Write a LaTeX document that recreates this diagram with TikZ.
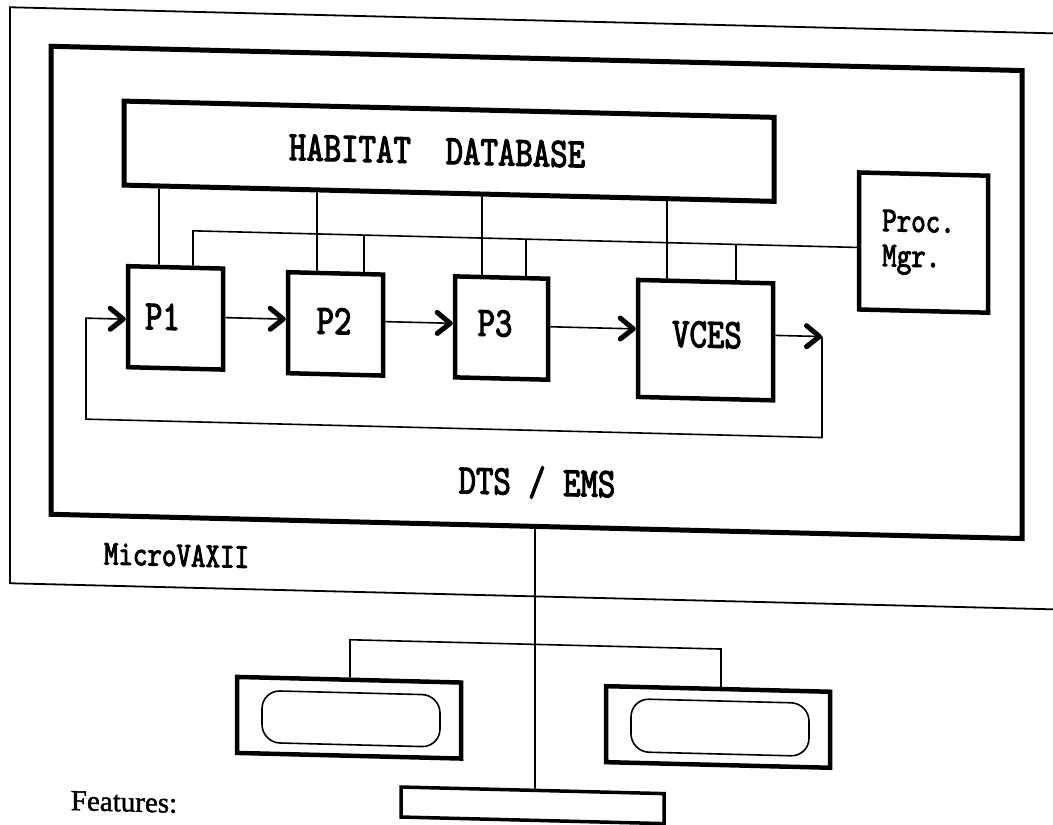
\documentclass[tikz,border=0pt]{standalone}
\usepackage{fontspec}
\usetikzlibrary{arrows.meta}
\newfontfamily\tw{lmmono10-regular}[Extension=.otf,FakeStretch=0.79,FakeBold=2.5]
\setmainfont{Liberation Serif}
\newfontfamily\featfont{Liberation Serif}[FakeBold=1.5]
\tikzset{
  big/.style={font={\tw\fontsize{42}{44}\selectfont}, inner sep=0pt},
  mid/.style={font={\tw\fontsize{35}{36}\selectfont}, inner sep=0pt},
  thickbox/.style={draw, line width=4.5pt, rectangle, inner sep=0pt},
  conn/.style={line width=1.6pt},
  arr/.style={conn, -{Straight Barb[length=13pt,width=21pt,line width=5pt,round]}},
  screen/.style={draw, line width=1.6pt, rounded corners=18pt, rectangle, inner sep=0pt}
}
\begin{document}
\begin{tikzpicture}[x=1pt,y=-1pt]
\useasboundingbox (0,0) rectangle (1053,825);
\begin{scope}[transform canvas={yslant=-0.025}]
% MicroVAXII enclosure (open to the right)
\draw[line width=1.8pt] (1120,7) -- (10,7) -- (10,583) -- (1120,583);
\node[mid] (mvax) at (176.5,551) {MicroVAXII};
% DTS / EMS box
\node[thickbox, line width=5pt, minimum width=971pt, minimum height=468pt] (sys) at (536.5,279) {};
\node[big] (dts) at (537,469) {DTS / EMS};
% database
\node[thickbox, line width=5pt, minimum width=650pt, minimum height=84pt] (db) at (449,140) {};
\node[big] (dbt) at (437,140) {HABITAT\ \ DATABASE};
% process manager
\node[thickbox, minimum width=129pt, minimum height=137pt] (pm) at (923.5,219.5) {};
\node[mid, anchor=base west] (pmt1) at (882,209) {Proc.};
\node[mid, anchor=base west] (pmt2) at (882,244) {Mgr.};
% processes
\node[thickbox, minimum width=95pt, minimum height=101pt] (p1) at (175.5,313.5) {};
\node[thickbox, minimum width=95pt, minimum height=101pt] (p2) at (335.5,315.5) {};
\node[thickbox, minimum width=93pt, minimum height=101pt] (p3) at (501.5,315.5) {};
\node[thickbox, minimum width=135pt, minimum height=117pt] (vces) at (705.5,322.5) {};
\node[big] (p1t) at (162.5,312.6) {P1};
\node[big] (p2t) at (334,312.7) {P2};
\node[big] (p3t) at (495,311) {P3};
\node[big] (vcest) at (707,317) {VCES};
% database links
\draw[conn] (db.south -| 159,0) -- (p1.north -| 159,0);
\draw[conn] (db.south -| 317,0) -- (p2.north -| 317,0);
\draw[conn] (db.south -| 482,0) -- (p3.north -| 482,0);
\draw[conn] (db.south -| 667,0) -- (vces.north -| 667,0);
% process manager bus
\coordinate (b1) at (193,226);
\coordinate (b2) at (364,226);
\coordinate (b3) at (526,226);
\coordinate (b4) at (736,226);
\draw[conn] (p1.north -| b1) -- (b1) -- (pm.west |- b1);
\draw[conn] (b2) -- (p2.north -| b2);
\draw[conn] (b3) -- (p3.north -| b3);
\draw[conn] (b4) -- (vces.north -| b4);
% pipeline arrows
\draw[arr] (p1.east |- 0,312) -- (p2.west |- 0,312);
\draw[arr] (p2.east |- 0,312) -- (p3.west |- 0,312);
\draw[arr] (p3.east |- 0,313) -- (vces.west |- 0,313);
\coordinate (c1) at (822,316);
\coordinate (c2) at (822,417);
\coordinate (c3) at (86,417);
\coordinate (c4) at (86,316);
\draw[arr] (vces.east |- c1) -- (c1);
\draw[arr] (c1) -- (c2) -- (c3) -- (c4) -- (p1.west |- c4);
% terminals
\node[thickbox, minimum width=224pt, minimum height=76pt] (ml) at (349,709) {};
\node[screen, minimum width=178pt, minimum height=52pt] (sl) at (351,710) {};
\node[thickbox, minimum width=224pt, minimum height=76pt] (mr) at (718,709) {};
\node[screen, minimum width=178pt, minimum height=53pt] (sr) at (720,709.5) {};
\node[thickbox, line width=3.5pt, minimum width=263pt, minimum height=30pt] (kb) at (532.5,792) {};
\coordinate (t1) at (350,631);
\coordinate (t2) at (721,631);
\draw[conn] (ml.north -| t1) -- (t1) -- (t2) -- (mr.north -| t2);
\draw[conn] (sys.south -| 535,0) -- (kb.north -| 535,0);
\node[font={\featfont\fontsize{29}{31}\selectfont}, inner sep=0pt] (feat) at (124,799) {Features:};
\end{scope}
\end{tikzpicture}
\end{document}
